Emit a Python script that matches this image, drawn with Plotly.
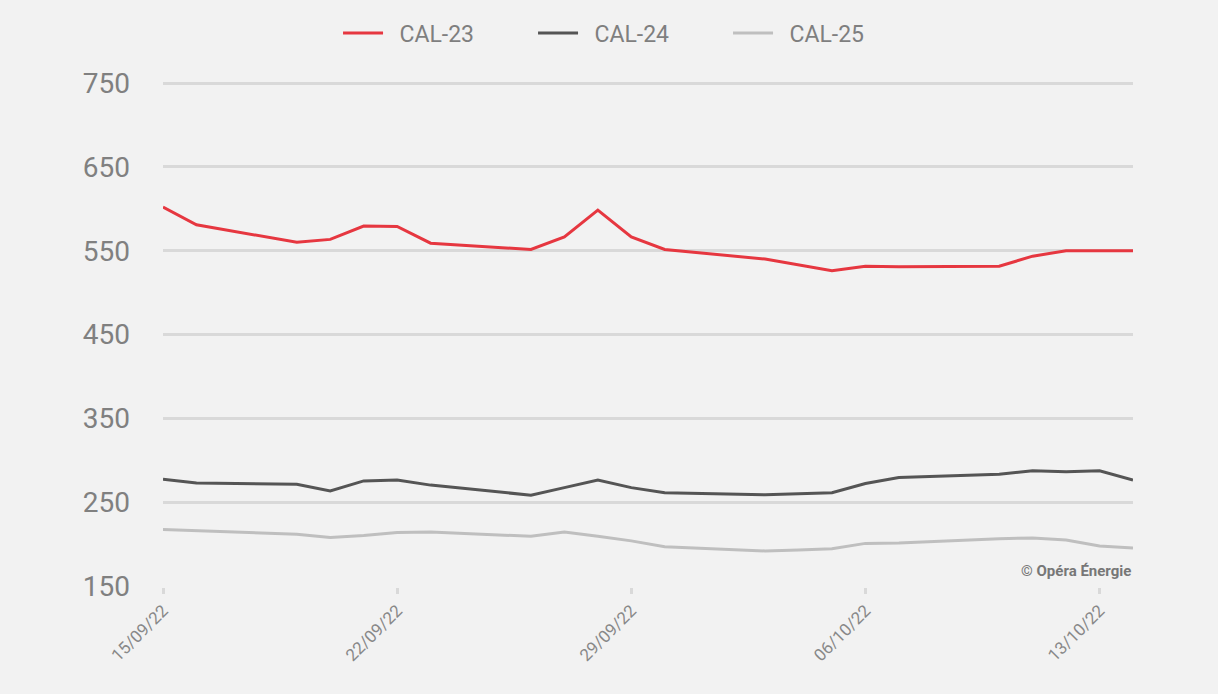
import plotly.graph_objects as go

dates = ["2022-09-15", "2022-09-16", "2022-09-19", "2022-09-20", "2022-09-21", "2022-09-22",
         "2022-09-23", "2022-09-26", "2022-09-27", "2022-09-28", "2022-09-29", "2022-09-30",
         "2022-10-03", "2022-10-04", "2022-10-05", "2022-10-06", "2022-10-07", "2022-10-10",
         "2022-10-11", "2022-10-12", "2022-10-13", "2022-10-14"]

cal23 = [602, 581, 560, 563.5, 579.5, 579, 559, 551.5, 566.5, 598.5, 566.5, 551.5,
         540, 533, 526, 531.5, 531, 531.5, 543.5, 550, 550, 550]
cal24 = [277.5, 273, 271.5, 263.5, 275.5, 276.5, 270.5, 258.5, 267.5, 276.5, 267.5, 261.5,
         259, 260, 261.5, 272.5, 279.5, 283.5, 287.5, 286.5, 287.5, 276.5]
cal25 = [217.5, 216, 212, 208, 210.5, 214, 214.5, 209.5, 214.5, 209.5, 204, 197,
         192, 193, 194.5, 201, 201.5, 206.5, 207.5, 205, 198, 195.5]

series = [("CAL-23", cal23, "#e63740"), ("CAL-24", cal24, "#555555"), ("CAL-25", cal25, "#bfbfbf")]

tick_vals = ["2022-09-15", "2022-09-22", "2022-09-29", "2022-10-06", "2022-10-13"]
tick_text = ["15/09/22", "22/09/22", "29/09/22", "06/10/22", "13/10/22"]
y_ticks = [150, 250, 350, 450, 550, 650, 750]

fig = go.Figure()
for name, vals, col in series:
    fig.add_trace(go.Scatter(x=dates, y=vals, name="\u00a0\u00a0" + name, mode="lines",
                             line=dict(color=col, width=3)))

fig.update_layout(
    width=1218, height=694,
    paper_bgcolor="#f2f2f2", plot_bgcolor="#f2f2f2",
    margin=dict(l=163, r=85, t=82, b=107),
    font=dict(family="Roboto, sans-serif", color="#808080"),
    legend=dict(orientation="h", x=0.482, xanchor="center",
                yref="container", y=1 - 33 / 694, yanchor="middle",
                font=dict(size=23, color="#7f7f7f"), itemwidth=40,
                entrywidth=140, bgcolor="rgba(0,0,0,0)"),
    showlegend=True,
)

fig.update_xaxes(
    type="date", range=["2022-09-15", "2022-10-14"],
    tickvals=tick_vals, ticktext=tick_text, tickangle=-45,
    tickfont=dict(size=17, color="#888888"),
    showgrid=False, zeroline=False,
    ticks="outside", ticklen=6, tickwidth=3, tickcolor="#d9d9d9",
    showline=False,
)
fig.update_yaxes(
    range=[149, 751.2], tickvals=y_ticks,
    tickfont=dict(size=28, color="#808080"),
    showgrid=True, gridcolor="#d9d9d9", gridwidth=3,
    zeroline=False, ticks="", ticklabelstandoff=32,
)

fig.add_annotation(text="<b>© Opéra Énergie</b>", xref="paper", yref="paper",
                   x=1.0, y=0.0, xanchor="right", yanchor="bottom", yshift=5,
                   showarrow=False, font=dict(size=15, color="#777777"))

fig.write_html("out.html", config={"displayModeBar": False},
               post_script="document.body.style.margin='0';")
